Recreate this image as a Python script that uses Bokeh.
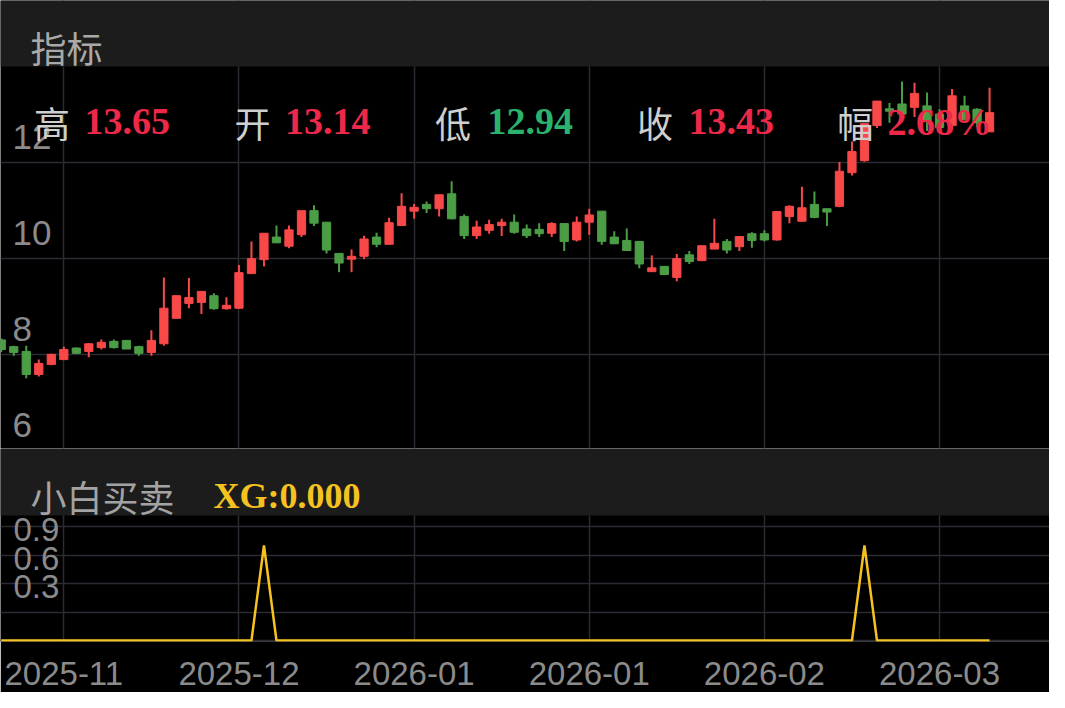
from bokeh.plotting import figure
from bokeh.layouts import column
from bokeh.models import (FixedTicker, Label, LabelSet, ColumnDataSource, Range1d,
                          Grid, AllLabels, BoxAnnotation)
from bokeh.core.properties import value
from bokeh.embed import file_html
from bokeh.resources import INLINE

# ---------------- data ----------------
opens = [8.30, 8.16, 8.06, 7.58, 7.79, 7.89, 8.13, 8.06, 8.14, 8.27,
         8.29, 8.16, 8.04, 8.22, 8.75, 9.06, 9.08, 9.22, 8.95, 8.96,
         9.68, 9.97, 10.44, 10.25, 10.49, 10.99, 10.75, 10.10, 9.98, 10.04,
         10.44, 10.29, 10.68, 10.98, 11.12, 11.03, 11.34, 10.87, 10.47, 10.58,
         10.68, 10.75, 10.61, 10.60, 10.52, 10.72, 10.38, 10.75, 10.98, 10.44,
         10.37, 10.35, 9.72, 9.83, 9.60, 10.07, 9.95, 10.19, 10.35, 10.24,
         10.51, 10.51, 10.38, 10.87, 10.77, 11.12, 11.03, 11.08, 11.78, 12.03,
         12.76, 13.11, 13.21, 13.14, 13.17, 13.00, 12.76, 13.17, 13.10, 12.63]
highs = [8.33, 8.18, 8.18, 7.89, 8.01, 8.16, 8.14, 8.23, 8.31, 8.31,
         8.29, 8.18, 8.50, 9.60, 9.22, 9.59, 9.31, 9.27, 9.19, 9.86,
         10.35, 10.52, 10.68, 10.68, 10.99, 11.10, 10.75, 10.10, 10.18, 10.47,
         10.53, 10.84, 11.35, 11.13, 11.18, 11.32, 11.60, 10.91, 10.78, 10.80,
         10.82, 10.91, 10.70, 10.73, 10.75, 10.72, 10.87, 11.03, 10.98, 10.56,
         10.62, 10.35, 10.06, 9.84, 10.09, 10.15, 10.26, 10.82, 10.40, 10.45,
         10.54, 10.58, 10.97, 11.10, 11.49, 11.39, 11.03, 12.00, 12.43, 12.80,
         13.27, 13.23, 13.68, 13.65, 13.45, 13.10, 13.52, 13.38, 13.12, 13.55]
lows = [8.05, 7.97, 7.50, 7.54, 7.77, 7.89, 8.01, 7.94, 8.10, 8.12,
        8.11, 7.97, 7.97, 8.18, 8.75, 8.96, 8.84, 8.93, 8.93, 8.95,
        9.68, 9.83, 10.32, 10.21, 10.44, 10.67, 10.10, 9.71, 9.71, 9.98,
        10.23, 10.29, 10.68, 10.82, 10.94, 10.87, 10.81, 10.40, 10.40, 10.51,
        10.46, 10.51, 10.42, 10.44, 10.44, 10.15, 10.35, 10.49, 10.28, 10.30,
        10.15, 9.79, 9.72, 9.65, 9.52, 9.88, 9.94, 10.19, 10.10, 10.15,
        10.22, 10.35, 10.37, 10.73, 10.77, 10.83, 10.67, 11.06, 11.72, 12.01,
        12.71, 12.82, 12.93, 12.94, 12.65, 12.63, 12.68, 12.86, 12.72, 12.63]
closes = [8.10, 8.04, 7.58, 7.81, 8.00, 8.10, 8.02, 8.22, 8.25, 8.14,
          8.11, 8.02, 8.29, 8.96, 9.22, 9.18, 9.31, 8.95, 9.02, 9.70,
          9.99, 10.52, 10.32, 10.59, 10.99, 10.73, 10.17, 9.90, 10.04, 10.40,
          10.29, 10.74, 11.08, 11.06, 11.03, 11.32, 10.82, 10.47, 10.65, 10.70,
          10.75, 10.54, 10.47, 10.51, 10.72, 10.35, 10.75, 10.90, 10.35, 10.30,
          10.16, 9.88, 9.80, 9.66, 9.99, 9.93, 10.26, 10.31, 10.17, 10.45,
          10.37, 10.38, 10.97, 11.08, 11.05, 10.85, 10.96, 11.81, 12.22, 12.80,
          13.27, 13.06, 13.00, 13.43, 12.86, 12.72, 13.38, 12.89, 12.82, 13.03]
xg = [0, 0, 0, 0, 0, 0, 0, 0, 0, 0,
      0, 0, 0, 0, 0, 0, 0, 0, 0, 0,
      0, 1, 0, 0, 0, 0, 0, 0, 0, 0,
      0, 0, 0, 0, 0, 0, 0, 0, 0, 0,
      0, 0, 0, 0, 0, 0, 0, 0, 0, 0,
      0, 0, 0, 0, 0, 0, 0, 0, 0, 0,
      0, 0, 0, 0, 0, 0, 0, 0, 0, 1,
      0, 0, 0, 0, 0, 0, 0, 0, 0, 0]

tick_idx = [5, 19, 33, 47, 61, 75]
tick_labels = ["2025-11", "2025-12", "2026-01", "2026-01", "2026-02", "2026-03"]
price_ticks = [6, 8, 10, 12]
price_labels = ["6", "8", "10", "12"]
xg_grid = [0, 0.3, 0.6, 0.9, 1.2]
xg_ticks = [0.3, 0.6, 0.9]
xg_labels = ["0.3", "0.6", "0.9"]

hdr_names = ["高", "开", "低", "收", "幅"]
hdr_values = ["13.65", "13.14", "12.94", "13.43", "2.68%"]

# ---------------- style / layout ----------------
UP = "#f94848"
DOWN = "#4c9e46"
TXT_RED = "#ee2848"
TXT_GREEN = "#2bb36e"
GOLD = "#f5c21f"
GRID = "#2b2b33"
HDR_BG = "#1c1c1c"
AXIS_TXT = "#8b8b8b"
W = 1049
X_RANGE = (-0.06, 83.79)

PRICE_LO, PRICE_HI = 6.04, 13.99
PRICE_PX = 382
HDR1_PX = 66
price_per_px = (PRICE_HI - PRICE_LO) / PRICE_PX

XG_LO, XG_HI = -0.0105, 1.316
XG_PX = 126
HDR2_PX = 67
AXIS_PX = 51
xg_per_px = (XG_HI - XG_LO) / XG_PX

hdr_name_x = [33.5, 234, 434.6, 636.5, 836.8]
hdr_val_x = [84.0, 284.5, 487.0, 688.0, 887.0]
hdr_val_colors = [TXT_RED, TXT_RED, TXT_GREEN, TXT_RED, TXT_RED]

# ---------------- main chart (with header band on top) ----------------
idx = list(range(len(opens)))
src = ColumnDataSource(dict(
    x=idx, open=opens, high=highs, low=lows, close=closes,
    top=[max(o, c) for o, c in zip(opens, closes)],
    bottom=[min(o, c) for o, c in zip(opens, closes)],
    color=[UP if c >= o else DOWN for o, c in zip(opens, closes)],
))
main = figure(width=W, height=PRICE_PX + HDR1_PX, toolbar_location=None,
              output_backend="svg", x_axis_location=None, y_axis_location=None,
              x_range=Range1d(*X_RANGE),
              y_range=Range1d(PRICE_LO, PRICE_HI + HDR1_PX * price_per_px))
main.background_fill_color = "black"
main.border_fill_color = "black"
main.outline_line_color = None
main.min_border = 0
for g in main.grid:
    g.visible = False
main.add_layout(Grid(dimension=0, ticker=FixedTicker(ticks=tick_idx),
                     grid_line_color=GRID, grid_line_width=1.5))
main.add_layout(Grid(dimension=1, ticker=FixedTicker(ticks=price_ticks),
                     grid_line_color=GRID, grid_line_width=1.5))
main.segment(x0="x", y0="high", x1="x", y1="low", line_color="color", line_width=2, source=src)
main.vbar(x="x", width=0.66, top="top", bottom="bottom", fill_color="color",
          line_color="color", line_width=1, source=src)
main.add_layout(BoxAnnotation(bottom=PRICE_HI, fill_color=HDR_BG, fill_alpha=1.0,
                              line_color=None))
main.add_layout(Label(x=30, y=PRICE_PX + 20, x_units="screen", y_units="screen", text="指标",
                      text_font="Noto Sans CJK SC", text_font_size="36px",
                      text_color="#a9a9a9", text_baseline="alphabetic"))
main.add_layout(LabelSet(x=12, y="y", x_units="screen", text="t", y_offset=13,
                         source=ColumnDataSource(dict(y=price_ticks, t=price_labels)),
                         text_font=value("Liberation Sans"), text_font_size=value("35px"),
                         text_color=AXIS_TXT, text_baseline="alphabetic"))
for name, nx, val, vx, col in zip(hdr_names, hdr_name_x, hdr_values, hdr_val_x, hdr_val_colors):
    main.add_layout(Label(x=nx, y=327, x_units="screen", y_units="screen", text=name,
                          text_font="Noto Sans CJK SC", text_font_size="36px",
                          text_color="#cfcfcf", text_baseline="alphabetic"))
    main.add_layout(Label(x=vx, y=327, x_units="screen", y_units="screen", text=val,
                          text_font="Liberation Serif", text_font_style="bold",
                          text_font_size="38px", text_color=col,
                          text_baseline="alphabetic"))

# ---------------- indicator chart (with header band on top) ----------------
ind = figure(width=W, height=HDR2_PX + XG_PX + AXIS_PX, toolbar_location=None,
             output_backend="svg", x_range=Range1d(*X_RANGE),
             y_range=Range1d(XG_LO, XG_HI + HDR2_PX * xg_per_px),
             x_axis_location="below", y_axis_location=None)
ind.background_fill_color = "black"
ind.border_fill_color = "black"
ind.outline_line_color = None
ind.min_border = 0
ind.min_border_bottom = AXIS_PX
for g in ind.grid:
    g.visible = False
ind.add_layout(Grid(dimension=0, ticker=FixedTicker(ticks=tick_idx),
                    grid_line_color=GRID, grid_line_width=1.5))
ind.add_layout(Grid(dimension=1, ticker=FixedTicker(ticks=xg_grid),
                    grid_line_color=GRID, grid_line_width=1.5))
ax = ind.xaxis[0]
ax.ticker = FixedTicker(ticks=tick_idx)
ax.major_label_overrides = {t: l for t, l in zip(tick_idx, tick_labels)}
ax.major_label_policy = AllLabels()
ax.axis_line_color = None
ax.major_tick_line_color = None
ax.minor_tick_line_color = None
ax.major_label_standoff = 14
ax.major_label_text_font = "Liberation Sans"
ax.major_label_text_font_size = "33px"
ax.major_label_text_color = AXIS_TXT
ind.line(x=idx, y=xg, line_color=GOLD, line_width=2.5)
ind.add_layout(BoxAnnotation(bottom=XG_HI, fill_color=HDR_BG, fill_alpha=1.0,
                             line_color=None))
ind.add_layout(LabelSet(x=13, y="y", x_units="screen", text="t", y_offset=14,
                        source=ColumnDataSource(dict(y=xg_ticks, t=xg_labels)),
                        text_font=value("Liberation Sans"), text_font_size=value("33px"),
                        text_color=AXIS_TXT, text_baseline="alphabetic"))
ind.add_layout(Label(x=30, y=XG_PX + 19.5, x_units="screen", y_units="screen", text="小白买卖",
                     text_font="Noto Sans CJK SC", text_font_size="36px",
                     text_color="#a3a3a3", text_baseline="alphabetic"))
ind.add_layout(Label(x=213, y=XG_PX + 19.5, x_units="screen", y_units="screen", text="XG:0.000",
                     text_font="Liberation Serif", text_font_style="bold",
                     text_font_size="36px", text_color=GOLD, text_baseline="alphabetic"))

p = column(main, ind, spacing=0)

open("out.html", "w").write(file_html(p, INLINE))
